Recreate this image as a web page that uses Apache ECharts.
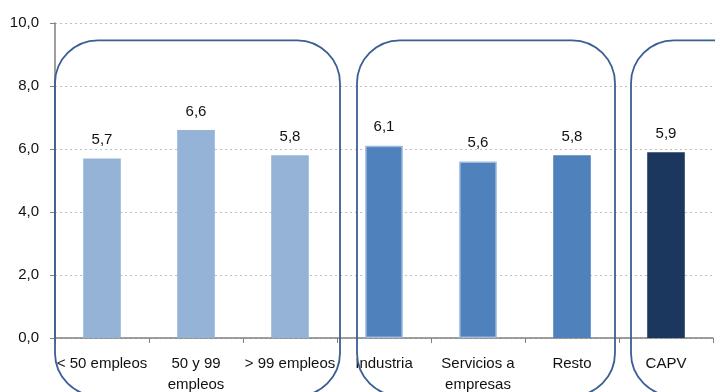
<!DOCTYPE html>
<html>
<head>
<meta charset="utf-8">
<script src="https://cdn.jsdelivr.net/npm/echarts@6/dist/echarts.min.js"></script>
<style>
html,body{margin:0;padding:0;background:#fff;}
#c{width:715px;height:392px;}
</style>
</head>
<body>
<div id="c"></div>
<script>
const categories = ['< 50 empleos', '50 y 99\nempleos', '> 99 empleos', 'Industria', 'Servicios a\nempresas', 'Resto', 'CAPV'];
const values = [5.7, 6.6, 5.8, 6.1, 5.6, 5.8, 5.9];
const barColors = ['#95B3D7', '#95B3D7', '#95B3D7', '#4F81BD', '#4F81BD', '#4F81BD', '#1B375E'];
const barBorders = [null, null, null, '#9DB9DD', '#9DB9DD', null, null];
const yTicks = [0, 2, 4, 6, 8, 10];

const chart = echarts.init(document.getElementById('c'));
const font = 'Liberation Sans, Arial, sans-serif';
chart.setOption({
  animation: false,
  grid: { left: 55, right: 2, top: 23, bottom: 54, containLabel: false, outerBoundsMode: 'none' },
  xAxis: {
    type: 'category',
    data: categories,
    axisLine: { show: true, lineStyle: { color: '#808080', width: 1.5 } },
    axisTick: { show: true, alignWithLabel: false, length: 5, lineStyle: { color: '#808080' } },
    axisLabel: { color: '#111', fontFamily: font, fontSize: 15, lineHeight: 21, margin: 15, interval: 0 },
    splitLine: { show: false }
  },
  yAxis: {
    type: 'value',
    min: yTicks[0],
    max: yTicks[yTicks.length - 1],
    interval: 2,
    axisLine: { show: true, lineStyle: { color: '#808080', width: 1.5 } },
    axisTick: { show: true, inside: false, length: 5, lineStyle: { color: '#808080' } },
    axisLabel: { color: '#111', fontFamily: font, fontSize: 15, margin: 16,
      formatter: v => v.toFixed(1).replace('.', ',') },
    splitLine: { show: true, lineStyle: { color: '#BFBFBF', type: [2, 3], width: 1 } }
  },
  series: [{
    type: 'bar',
    barWidth: '40%',
    data: values.map((v, i) => ({
      value: v,
      itemStyle: barBorders[i]
        ? { color: barColors[i], borderColor: barBorders[i], borderWidth: 1.5 }
        : { color: barColors[i] }
    })),
    label: {
      show: true, position: 'top', distance: 11,
      color: '#111', fontFamily: font, fontSize: 15,
      formatter: p => p.value.toFixed(1).replace('.', ',')
    }
  }]
});

function drawBoxes() {
  const step = chart.convertToPixel({ xAxisIndex: 0 }, categories[1]) - chart.convertToPixel({ xAxisIndex: 0 }, categories[0]);
  const c = i => chart.convertToPixel({ xAxisIndex: 0 }, categories[i]);
  const yTop = chart.convertToPixel({ yAxisIndex: 0 }, 9.45);
  const bottom = 396;
  const boxes = [
    [c(0) - step / 2, c(2) + step / 2 + 3],
    [c(3) - step / 2 + 20, c(5) + step / 2 - 4],
    [c(6) - step / 2 + 12, c(6) + step / 2 + 120]
  ];
  chart.setOption({
    graphic: boxes.map(b => ({
      type: 'rect',
      z: 100,
      silent: true,
      shape: { x: b[0], y: yTop, width: b[1] - b[0], height: bottom - yTop, r: 43 },
      style: { fill: 'none', stroke: '#3A5F95', lineWidth: 1.8 }
    }))
  });
}
drawBoxes();
</script>
</body>
</html>
